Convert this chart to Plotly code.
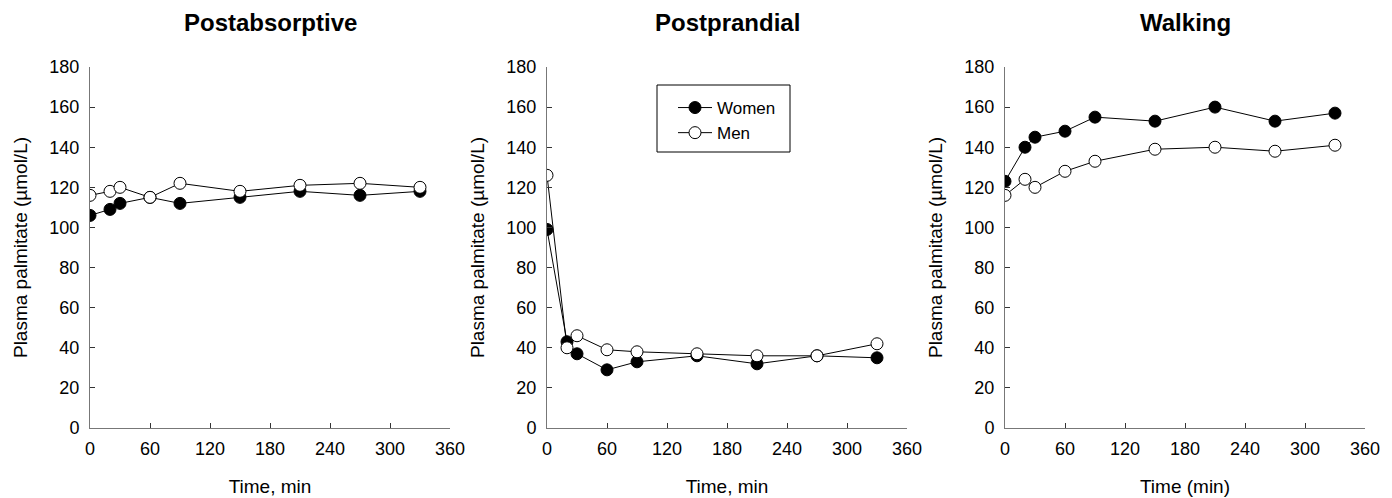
import plotly.graph_objects as go

time_min = [0, 20, 30, 60, 90, 150, 210, 270, 330]

post_abs_women = [106, 109, 112, 115, 112, 115, 118, 116, 118]
post_abs_men = [116, 118, 120, 115, 122, 118, 121, 122, 120]

post_pr_women = [99, 43, 37, 29, 33, 36, 32, 36, 35]
post_pr_men = [126, 40, 46, 39, 38, 37, 36, 36, 42]

walk_women = [123, 140, 145, 148, 155, 153, 160, 153, 157]
walk_men = [116, 124, 120, 128, 133, 139, 140, 138, 141]

panel_titles = ["Postabsorptive", "Postprandial", "Walking"]
x_titles = ["Time, min", "Time, min", "Time (min)"]
y_title = "Plasma palmitate (\u00b5mol/L)"
x_ticks = [0, 60, 120, 180, 240, 300, 360]
y_ticks = [0, 20, 40, 60, 80, 100, 120, 140, 160, 180]

panels = [
    (post_abs_women, post_abs_men),
    (post_pr_women, post_pr_men),
    (walk_women, walk_men),
]

# page body has an 8px margin; size the figure so it fits the window exactly
OFF = 8
W, H = 1392 - OFF, 498 - OFF


def px(x):
    return (x - OFF) / W


def py(y):
    return 1 - (y - OFF) / H


x_px = [(90, 450), (547, 907), (1005, 1365)]
y_dom = [py(428), py(67)]
FONT = "Liberation Sans, Arial, sans-serif"

fig = go.Figure()
for i, (women, men) in enumerate(panels):
    sfx = "" if i == 0 else str(i + 1)
    fig.add_trace(go.Scatter(
        x=time_min, y=women, mode="lines+markers", name="Women",
        xaxis="x" + sfx, yaxis="y" + sfx, showlegend=(i == 1),
        line=dict(color="black", width=1),
        marker=dict(size=12, color="black", line=dict(color="black", width=1)),
    ))
    fig.add_trace(go.Scatter(
        x=time_min, y=men, mode="lines+markers", name="Men",
        xaxis="x" + sfx, yaxis="y" + sfx, showlegend=(i == 1),
        line=dict(color="black", width=1),
        marker=dict(size=12, color="white", line=dict(color="black", width=1)),
    ))

layout = dict(
    width=W, height=H,
    margin=dict(l=0, r=0, t=0, b=0),
    plot_bgcolor="white", paper_bgcolor="white",
    font=dict(family=FONT, color="black", size=18),
    showlegend=True,
    legend=dict(
        x=px(673), y=py(90), xanchor="left", yanchor="top",
        bgcolor="rgba(0,0,0,0)", borderwidth=0, itemwidth=34,
        font=dict(size=17, family=FONT),
    ),
    shapes=[dict(type="rect", xref="paper", yref="paper",
                 x0=px(657), x1=px(790), y0=py(152), y1=py(85),
                 line=dict(color="black", width=1))],
    annotations=[],
)

for i in range(3):
    sfx = "" if i == 0 else str(i + 1)
    x0, x1 = x_px[i]
    layout["xaxis" + sfx] = dict(
        domain=[px(x0), px(x1)], range=[0, 360], anchor="y" + sfx,
        tickvals=x_ticks, ticks="inside", ticklen=5, tickcolor="#333",
        showline=True, linecolor="#777", linewidth=1, showgrid=False, zeroline=False,
        tickfont=dict(size=18), ticklabelstandoff=4,
        title=dict(text=x_titles[i], font=dict(size=19), standoff=22),
        automargin=False,
    )
    layout["yaxis" + sfx] = dict(
        domain=list(y_dom), range=[0, 180], anchor="x" + sfx,
        tickvals=y_ticks, ticks="inside", ticklen=5, tickcolor="#333",
        showline=True, linecolor="#777", linewidth=1, showgrid=False, zeroline=False,
        tickfont=dict(size=18), ticklabelstandoff=6,
        title=dict(text=y_title, font=dict(size=19), standoff=16),
        automargin=False,
    )
    layout["annotations"].append(dict(
        text="<b>" + panel_titles[i] + "</b>", xref="paper", yref="paper",
        x=px((x0 + x1) / 2), y=py(22), xanchor="center", yanchor="middle",
        showarrow=False, font=dict(size=24, family=FONT),
    ))

fig.update_layout(**layout)
fig.write_html("out.html")
